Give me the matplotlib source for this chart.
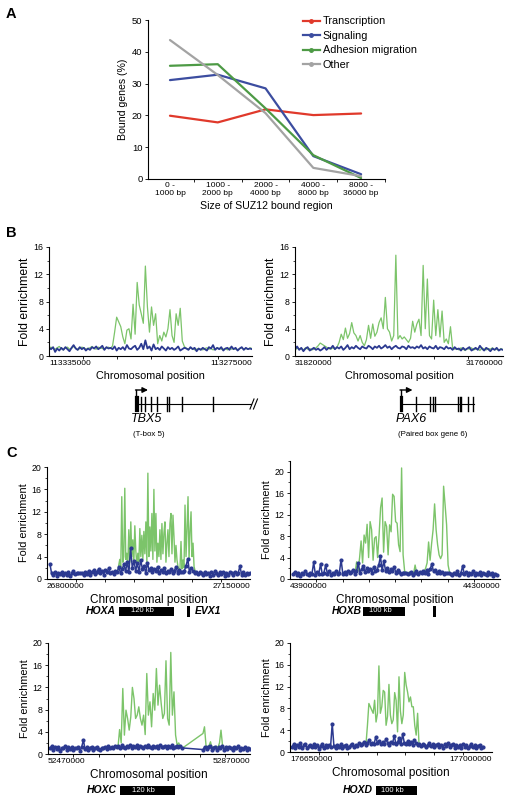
import matplotlib
matplotlib.use("Agg")
import matplotlib.pyplot as plt
import numpy as np
from matplotlib.lines import Line2D
from matplotlib.patches import Rectangle
from matplotlib.ticker import MultipleLocator

plt.rcParams['font.family'] = ['Liberation Sans', 'DejaVu Sans']

W, H = 514, 802

# ---------------- panel A data
size_bins = ["0 -\n1000 bp", "1000 -\n2000 bp", "2000 -\n4000 bp",
             "4000 -\n8000 bp", "8000 -\n36000 bp"]
transcription = [19.9, 17.8, 21.9, 20.1, 20.6]
signaling = [31.1, 32.8, 28.5, 7.2, 1.5]
adhesion = [35.6, 36.1, 22.2, 7.5, 0.3]
other = [43.7, 32.7, 20.7, 3.5, 0.9]
series_names = ["Transcription", "Signaling", "Adhesion migration", "Other"]

RED = "#e0392b"
BLUE = "#3c4da0"
GREEN = "#4d9a45"
GRAY = "#a3a3a3"
LGREEN = "#7cc46a"
NAVY = "#2b3990"

# ---------------- panel B data (TBX5, PAX6)
b1_range = (113335000, 113275000)
b1_green = [1.2, 1.3, 1.1, 1.0, 1.2, 1.4, 1.1, 0.9, 1.2, 1.3, 1.0, 1.1, 1.4, 1.2, 0.9, 1.1,
            1.3, 1.2, 1.0, 1.1, 1.2, 1.4, 1.1, 1.0, 1.3, 1.2, 1.1, 1.0, 1.2, 1.3, 1.1,
            1.5, 3.5, 5.7, 5.0, 4.3, 2.8, 1.8, 3.8, 4.0, 2.5, 7.6, 3.2, 10.8, 7.5, 6.2, 4.8,
            13.2, 7.2, 3.5, 7.2, 4.5, 6.2, 1.8, 3.0, 2.2, 3.5, 2.8, 4.0, 6.8, 3.0, 2.0, 6.2,
            4.5, 7.0, 2.2, 1.4, 1.1,
            1.0, 1.2, 1.1, 0.9, 1.0, 1.1, 1.0, 0.9, 1.1, 1.2, 1.0, 1.1, 0.9, 1.0, 1.2, 1.1,
            1.0, 1.0, 1.1, 0.9, 1.2, 1.0, 1.1, 1.0, 0.9, 1.1, 1.2, 1.0, 1.1, 1.0, 1.2, 1.1]
b1_blue = [1.2, 1.0, 1.3, 0.6, 1.1, 0.8, 1.2, 0.9, 1.3, 1.0, 0.7, 1.2, 1.6, 1.1, 0.9, 1.3, 1.0, 1.2, 0.8, 1.1,
           0.9, 1.3, 1.1, 1.4, 1.0, 1.2, 1.5, 0.9, 1.3, 1.1, 1.2, 1.0, 1.4, 0.8, 1.2, 1.0, 1.3, 0.9, 1.6, 1.1,
           1.0, 1.3, 1.5, 0.9, 1.2, 1.8, 1.0, 2.3, 1.1, 1.4, 0.8, 1.7, 1.0, 1.2, 0.9, 1.4, 1.1, 0.8, 1.3, 1.0,
           1.2, 0.9, 1.1, 1.4, 0.8, 1.0, 1.2, 1.1, 0.9, 1.3, 1.0, 1.2, 0.7, 1.1, 0.9, 1.2, 1.0, 0.8, 1.3, 1.1,
           1.6, 0.9, 1.2, 1.0, 1.3, 0.8, 1.1, 1.2, 0.9, 1.4, 1.0, 1.2, 0.8, 1.1, 1.3, 0.9, 1.2, 1.0, 1.1, 1.0]

b2_range = (31820000, 31760000)
b2_green = [0.8, 1.2, 1.0, 1.1, 0.9, 1.2, 1.0, 1.1, 0.9, 1.0, 1.2, 1.5,
            1.9, 1.7, 1.5, 1.3, 1.1, 1.0, 1.2, 1.0, 1.3,
            2.0, 3.2, 2.4, 4.1, 2.6, 3.3, 4.9, 3.4, 3.0, 2.2, 3.0, 2.0, 1.5, 2.4, 4.5,
            2.6, 4.7, 2.9, 3.5, 4.9, 5.6, 4.0, 8.6, 4.0, 3.5, 2.2, 3.0, 14.8, 2.5, 3.0,
            2.5, 2.8, 2.4, 2.0, 2.6, 5.1, 3.5, 4.7, 5.4, 3.0, 13.3, 4.0, 11.3, 3.0, 2.5,
            8.2, 3.0, 6.8, 2.8, 6.6, 2.0, 2.5, 1.8, 4.3, 1.2,
            1.0, 1.1, 0.9, 1.2, 1.0, 0.8, 1.1, 1.0, 1.2, 0.9, 1.0, 1.1, 0.8, 1.2, 1.0, 0.9,
            1.1, 1.0, 1.2, 0.9, 1.0, 0.8, 1.1, 0.9]
b2_blue = [1.0, 1.4, 0.9, 1.2, 0.7, 1.1, 1.3, 0.8, 1.0, 1.2, 0.9, 1.1, 0.8, 1.0, 1.3, 0.9, 1.2, 1.1, 1.5, 1.0,
           1.3, 1.1, 1.4, 0.9, 1.2, 1.6, 1.0, 1.3, 1.1, 1.5, 1.2, 1.0, 1.4, 1.2, 1.1, 1.5, 1.3, 1.0, 1.4, 1.2,
           1.5, 1.1, 1.3, 1.6, 1.2, 1.4, 1.0, 1.3, 1.5, 1.2, 1.1, 1.4, 1.3, 1.0, 1.5, 1.2, 1.3, 1.1, 1.4, 1.2,
           1.6, 1.1, 1.3, 1.0, 1.4, 1.2, 1.1, 1.5, 1.0, 1.3, 1.2, 1.0, 1.4, 1.1, 1.2, 0.9, 1.3, 1.0, 1.1, 0.8,
           1.2, 0.9, 1.1, 1.3, 0.8, 1.0, 1.2, 0.9, 1.5, 1.1, 0.8, 1.2, 1.0, 0.7, 1.1, 0.9, 1.2, 0.8, 1.0, 0.9]

# ---------------- panel C data (HOX clusters)
# HOXA
c1_range = (26800000, 27150000)
c1_blue_span = [(26805000, 27150000)]
c1_blue = [2.7, 1.0, 0.8, 1.2, 0.6, 1.1, 0.9, 1.3, 0.7, 1.0,
           0.8, 1.2, 0.6, 1.0, 1.4, 0.9, 1.1, 1.0, 1.0, 1.0,
           0.7, 1.3, 0.9, 1.5, 0.8, 1.2, 1.6, 0.9, 1.3, 1.8,
           1.1, 1.4, 0.8, 1.6, 1.2, 2.0, 1.0, 1.3, 0.9, 1.5,
           1.2, 2.2, 1.0, 1.8, 2.6, 1.4, 3.0, 1.2, 5.5, 2.0,
           3.2, 1.5, 2.8, 1.3, 3.4, 1.8, 2.4, 1.0, 2.9, 1.6,
           2.0, 1.2, 1.8, 1.4, 2.2, 1.0, 1.6, 1.3, 2.0, 1.1,
           1.5, 1.2, 1.8, 1.0, 1.4, 2.2, 1.1, 1.6, 1.2, 1.3,
           1.5, 2.4, 3.6, 1.2, 2.0, 1.4, 1.1, 1.3, 0.9, 1.2,
           1.0, 0.7, 1.3, 0.9, 1.1, 0.6, 1.2, 0.8, 1.4, 1.0,
           0.7, 1.2, 0.9, 1.3, 0.6, 1.1, 0.8, 1.2, 1.0, 0.7,
           1.3, 0.9, 1.1, 2.3, 0.8, 1.2, 0.7, 1.1, 0.9, 1.0]
c1_green_span = [(26922000, 27057000)]
c1_green = [1.2, 2.5, 3.5, 2.0, 14.7, 3.0, 4.0, 16.2, 3.5, 4.6, 2.5, 8.8, 3.0, 10.2, 4.0,
            7.0, 2.8, 9.5, 5.0, 2.5, 4.6, 3.0, 9.0, 4.0, 7.8, 3.5, 8.5, 4.5, 10.2, 3.0,
            18.9, 4.0, 9.3, 5.0, 11.7, 3.5, 16.0, 5.0, 11.7, 3.0, 6.4, 4.0, 8.8, 3.5, 9.9,
            4.5, 8.2, 10.2, 3.0, 6.4, 8.8, 4.0, 9.9, 11.7, 4.5, 11.4, 7.6, 3.0, 6.0, 3.4,
            2.2, 1.5, 2.0, 6.7, 1.8, 3.4, 2.0, 13.2, 4.0, 9.0, 14.7, 3.5, 8.5, 12.0, 4.0,
            6.4, 2.2, 1.5, 1.2]

# HOXB
c2_range = (43900000, 44300000)
c2_blue_span = [(43906000, 44294000)]
c2_blue = [1.0, 1.3, 0.8, 1.2, 0.6, 1.1, 0.9, 1.4, 1.0, 0.7,
           1.2, 1.0, 3.1, 0.8, 1.3, 1.0, 2.8, 0.9, 1.2, 2.6,
           1.0, 1.4, 0.8, 1.2, 1.0, 1.5, 0.9, 1.2, 3.6, 1.0,
           1.3, 0.9, 1.5, 1.1, 1.3, 1.6, 1.0, 1.4, 3.0, 1.2,
           1.8, 2.4, 1.3, 2.0, 1.5, 1.8, 1.2, 2.2, 1.4, 1.7,
           2.6, 4.2, 1.6, 3.4, 1.5, 2.0, 1.3, 1.8, 1.4, 2.2,
           1.2, 1.6, 1.3, 1.0, 1.2, 1.2, 1.1, 0.9, 1.1, 1.3,
           0.8, 1.2, 1.4, 1.0, 1.3, 1.1, 1.5, 1.2, 1.6, 1.0,
           1.8, 2.8, 1.4, 1.6, 1.2, 1.5, 1.1, 1.3, 1.0, 1.2,
           1.1, 1.1, 1.0, 0.8, 1.2, 1.0, 1.4, 0.7, 1.1, 2.4,
           0.9, 1.3, 0.8, 1.2, 1.0, 1.4, 0.7, 1.1, 0.9, 1.3,
           0.8, 1.2, 1.0, 0.7, 1.3, 0.9, 1.1, 0.6, 1.0, 0.8]
c2_green_span = [(44024000, 44204000)]
c2_green = [1.2, 3.2, 1.5, 4.0, 7.1, 3.0, 8.2, 6.7, 10.2, 4.0, 10.7, 9.2, 3.5, 7.6, 7.9, 4.0,
            8.2, 13.3, 15.1, 5.0, 10.7, 9.8, 4.5, 10.1, 8.8, 15.8, 15.4, 10.7, 10.4, 6.4,
            5.1, 20.7, 4.5, 1.5, 1.2, 1.0, 1.3, 1.1, 1.4, 1.0, 2.6, 1.2, 1.0, 1.3, 1.1, 1.2,
            1.4, 2.0, 3.0, 6.9, 3.5, 6.6, 9.2, 14.0, 9.2, 6.4, 4.5, 3.8, 4.5, 17.3, 13.8,
            10.1, 2.6, 1.2]

# HOXC
c3_range = (52470000, 52870000)
c3_blue_span = [(52474000, 52735000), (52777000, 52870000)]
c3_blue = [1.0, 1.4, 0.7, 1.2, 0.9, 1.3, 0.6, 1.1, 1.0, 1.4,
           0.8, 1.2, 0.9, 1.3, 0.7, 1.1, 1.0, 1.2, 0.6, 1.3,
           2.5, 0.9, 1.2, 0.8, 1.1, 1.3, 0.7, 1.0, 1.2, 0.9,
           0.8, 1.1, 1.0, 1.2, 0.9, 1.4, 1.1, 1.3, 1.0, 1.5,
           1.2, 1.4, 1.0, 1.6, 1.3, 1.1, 1.5, 1.2, 1.7, 1.0,
           1.4, 1.2, 1.6, 1.1, 1.5, 1.3, 1.0, 1.4, 1.2, 1.6,
           1.3, 1.1, 1.5, 1.2, 1.4, 1.0, 1.6, 1.2, 1.3, 1.5,
           1.1, 1.4, 1.2, 1.6, 1.0, 1.3, 1.5, 1.2, 1.4, 1.1,
           # after the gap
           0.8, 1.3, 0.9, 1.2, 1.4, 0.8, 1.1, 1.3, 0.7, 1.2, 1.0, 1.4, 0.8, 1.2,
           0.9, 1.3, 1.1, 0.7, 1.2, 1.0, 1.4, 0.8, 1.1, 0.9, 1.3, 0.7, 1.0, 0.9]
c3_blue_counts = [80, 28]
c3_green_span = [(52608600, 52735300), (52776900, 52818500)]
c3_green = [1.2, 4.4, 2.0, 11.8, 3.4, 7.9, 6.4, 4.3, 6.7, 12.0, 10.0, 6.4, 7.0, 8.5,
            6.4, 5.2, 7.0, 3.5, 14.5, 7.0, 9.4, 4.9, 10.9, 7.9, 15.4, 8.8, 12.4, 9.1,
            6.4, 7.3, 16.8, 6.4, 5.2, 18.3, 7.0, 11.2, 3.4, 1.6, 2.0, 1.3, 1.0,
            # after the gap
            3.7, 4.9, 1.6, 1.2, 1.5, 2.2, 1.0, 1.3, 1.1, 1.4, 1.2, 2.0, 4.3, 1.6, 1.1]
c3_green_counts = [41, 15]

# HOXD
c4_range = (176650000, 177000000)
c4_blue_span = [(176653500, 176984500)]
c4_blue = [1.0, 1.4, 0.7, 1.3, 0.9, 1.6, 0.8, 1.2, 1.5, 0.7,
           1.1, 1.3, 0.9, 1.5, 1.0, 1.2, 0.6, 1.1, 1.4, 0.8,
           1.2, 0.9, 1.3, 1.0, 5.2, 1.1, 0.8, 1.2, 0.9, 1.4,
           0.7, 1.1, 1.3, 0.8, 1.0, 1.2, 1.5, 0.9, 1.3, 1.1,
           1.6, 1.2, 1.4, 1.8, 1.3, 1.6, 2.2, 1.4, 1.7, 1.5,
           2.8, 1.6, 2.0, 1.4, 1.8, 1.5, 2.4, 1.7, 1.3, 1.9,
           1.6, 3.0, 1.5, 1.8, 2.6, 1.4, 3.3, 1.7, 1.5, 2.0,
           1.4, 1.8, 1.2, 2.2, 1.6, 1.3, 1.5, 1.1, 1.4, 1.2,
           1.0, 1.3, 1.6, 1.1, 1.4, 0.9, 1.2, 1.5, 1.0, 1.3,
           0.8, 1.4, 1.1, 1.6, 0.9, 1.2, 1.5, 0.8, 1.3, 1.0,
           1.2, 0.7, 1.4, 1.0, 1.3, 0.8, 1.1, 1.5, 0.9, 1.2,
           0.8, 1.1, 1.3, 0.7, 1.0]
c4_green_span = [(176781700, 176873600)]
c4_green = [1.5, 4.9, 8.9, 8.3, 7.7, 7.1, 9.5, 5.5, 7.1, 15.8, 7.1, 8.3, 11.3, 11.0,
            4.9, 6.5, 12.4, 6.8, 5.2, 5.9, 10.9, 9.5, 3.7, 13.8, 7.5, 5.2, 6.8, 14.6,
            12.3, 11.0, 9.2, 10.1, 8.3, 8.3, 4.9, 3.1, 7.1, 1.3]

# gene models (positions in figure pixels)
tbx5_exons = [136, 137.5, 140.7, 145, 150.7, 157.3, 166.7, 169, 181.7, 212.7]
pax6_exons = [400.5, 401.5, 416, 430, 432.7, 435.3, 458, 459.5, 461, 468.3, 472.7]

fig = plt.figure(figsize=(W / 100, H / 100), dpi=100)


def box(l, r, t, b):
    return fig.add_axes([l / W, 1 - b / H, (r - l) / W, (b - t) / H])


def spineless(a):
    a.spines['right'].set_visible(False)
    a.spines['top'].set_visible(False)
    for s in ('left', 'bottom'):
        a.spines[s].set_linewidth(0.8)


def positions(spans, counts):
    return np.concatenate([np.linspace(a, b, n) for (a, b), n in zip(spans, counts)])


def track(ax, xr, ymax, yl_fs, xl_fs, step):
    spineless(ax)
    ax.set_xlim(*xr)
    ax.set_ylim(0, ymax)
    ax.set_xticks(list(xr))
    ax.set_xticklabels([str(xr[0]), str(xr[1])], fontsize=6.0)
    labs = ax.get_xticklabels()
    labs[0].set_ha('left')
    labs[1].set_ha('right')
    ax.tick_params(axis='x', length=0, pad=3)
    lo, hi = min(xr), max(xr)
    ax.set_xticks(np.arange(lo, hi + 1, step), minor=True)
    ax.tick_params(axis='x', which='minor', length=2, width=0.6)
    ax.yaxis.set_major_locator(MultipleLocator(4))
    ax.yaxis.set_minor_locator(MultipleLocator(2))
    ax.tick_params(axis='y', labelsize=6.3, length=2.5, width=0.6, pad=1.5)
    ax.tick_params(axis='y', which='minor', length=1.5, width=0.5)
    ax.set_ylabel("Fold enrichment", fontsize=yl_fs, labelpad=2)
    ax.set_xlabel("Chromosomal position", fontsize=xl_fs, labelpad=3)


# ---------------- A
axA = box(148, 385, 20, 179)
spineless(axA)
xs = np.arange(len(size_bins))
cols = [RED, BLUE, GREEN, GRAY]
for vals, c in zip([transcription, signaling, adhesion, other], cols):
    axA.plot(xs, vals, color=c, lw=1.6, solid_capstyle='round')
axA.set_xlim(-0.46, 4.48)
axA.set_ylim(0, 50)
axA.set_yticks(range(0, 51, 10))
axA.set_xticks(xs)
axA.set_xticklabels(size_bins, fontsize=6.0, linespacing=1.15)
axA.tick_params(axis='x', length=0, pad=2.5)
axA.set_xticks(np.arange(0.5, 4.6, 1), minor=True)
axA.tick_params(axis='x', which='minor', length=2.5, width=0.6)
axA.tick_params(axis='y', labelsize=6.8, length=2.5, width=0.6, pad=1.5)
axA.set_ylabel("Bound genes (%)", fontsize=7.6, labelpad=3)
axA.set_xlabel("Size of SUZ12 bound region", fontsize=7.6, labelpad=3)
handles = [Line2D([], [], color=c, lw=1.6, marker='o', ms=2.5) for c in cols]
axA.legend(handles, series_names, loc='upper left', bbox_to_anchor=(0.635, 1.05),
           frameon=False, fontsize=7.8, handlelength=1.6, handletextpad=0.25,
           labelspacing=0.42, borderaxespad=0)

# ---------------- B
for (l, r), xr, g, bl in [((49, 252), b1_range, b1_green, b1_blue),
                          ((295, 503), b2_range, b2_green, b2_blue)]:
    ax = box(l, r, 247, 356)
    ax.plot(np.linspace(xr[0], xr[1], len(g)), g, color=LGREEN, lw=0.9)
    ax.plot(np.linspace(xr[0], xr[1], len(bl)), bl, color=NAVY, lw=1.3)
    track(ax, xr, 16, 8.8, 7.8, 10000)

# ---------------- C
c_panels = [
    ((47, 250, 467, 579), c1_range, c1_blue_span, [len(c1_blue)], c1_blue,
     c1_green_span, [len(c1_green)], c1_green, 20),
    ((290, 500, 461, 579), c2_range, c2_blue_span, [len(c2_blue)], c2_blue,
     c2_green_span, [len(c2_green)], c2_green, 22),
    ((48, 250, 643, 754), c3_range, c3_blue_span, c3_blue_counts, c3_blue,
     c3_green_span, c3_green_counts, c3_green, 20),
    ((290, 492, 643, 752), c4_range, c4_blue_span, [len(c4_blue)], c4_blue,
     c4_green_span, [len(c4_green)], c4_green, 20),
]
for (l, r, t, b), xr, bsp, bn, bv, gsp, gn, gv, ymax in c_panels:
    ax = box(l, r, t, b)
    ax.plot(positions(gsp, gn), gv, color=LGREEN, lw=1.0)
    ax.plot(positions(bsp, bn), bv, color=NAVY, lw=1.1, marker='o', ms=2.0,
            mec=NAVY, mfc=NAVY)
    track(ax, xr, ymax, 7.8, 8.5, 50000)

# ---------------- annotation layer
ann = fig.add_axes([0, 0, 1, 1])
ann.set_xlim(0, W)
ann.set_ylim(H, 0)
ann.axis('off')

for lab, y in [("A", 18), ("B", 237), ("C", 457)]:
    ann.text(6, y, lab, fontsize=10.5, fontweight='bold', va='baseline')


def gene(exons, end, label, desc):
    x0 = exons[0]
    ann.plot([x0, end], [404, 404], color='k', lw=0.8)
    for i, e in enumerate(exons):
        ann.plot([e, e], [397, 411], color='k', lw=1.6 if i < 2 else 1.0)
    ann.plot([x0, x0], [404, 390], color='k', lw=1.0)
    ann.annotate('', xy=(x0 + 12, 390), xytext=(x0 - 0.5, 390),
                 arrowprops=dict(arrowstyle='-|>', color='k', lw=1.0,
                                 mutation_scale=8, shrinkA=0, shrinkB=0))
    ann.text(x0 - 5, 419, label, fontsize=9, fontstyle='italic', va='center')
    ann.text(x0 - 3, 434, desc, fontsize=5.7, va='center')


gene(tbx5_exons, 251, "TBX5", "(T-box 5)")
ann.plot([250, 254], [409, 399], color='k', lw=0.8)
ann.plot([253.5, 257.5], [409, 399], color='k', lw=0.8)
gene(pax6_exons, 474, "PAX6", "(Paired box gene 6)")


def hox(name, x_name, x0, x1, yc, size_txt):
    ann.text(x_name, yc, name, fontsize=7.5, fontweight='bold', fontstyle='italic',
             ha='right', va='center')
    ann.add_patch(Rectangle((x0, yc - 4.5), x1 - x0, 9, color='k', lw=0))
    ann.text((x0 + x1) / 2 - 4, yc, size_txt, fontsize=5.5, color='white',
             ha='center', va='center')


hox("HOXA", 116, 119, 174, 611, "120 kb")
ann.add_patch(Rectangle((187, 606), 3, 11, color='k', lw=0))
ann.text(195, 611, "EVX1", fontsize=7.5, fontweight='bold', fontstyle='italic', va='center')
hox("HOXB", 362, 363, 405, 611, "100 kb")
ann.add_patch(Rectangle((433, 606), 3, 11, color='k', lw=0))
hox("HOXC", 117, 120, 175, 790, "120 kb")
hox("HOXD", 373, 376, 417, 790, "100 kb")

fig.savefig("out.png", dpi=100)
